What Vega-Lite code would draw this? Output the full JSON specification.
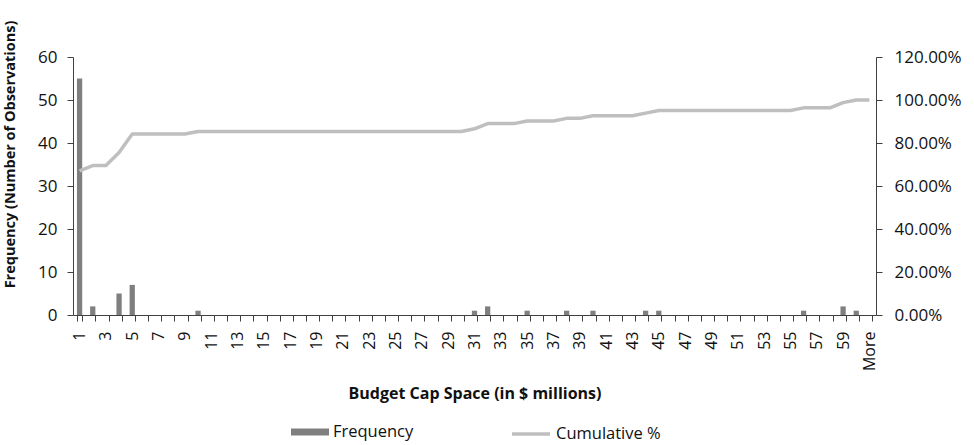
{
  "$schema": "https://vega.github.io/schema/vega-lite/v6.json",
  "width": 803,
  "height": 258,
  "autosize": {"type": "none"},
  "padding": {"left": 73, "top": 57, "right": 98, "bottom": 130},
  "background": "white",
  "config": {
    "view": {"stroke": null},
    "font": "Open Sans",
    "axis": {"labelFont": "Open Sans", "titleFont": "Open Sans", "labelColor": "#111", "titleColor": "#111", "domainColor": "#404040", "tickColor": "#404040", "grid": false, "labelFontSize": 16, "titleFontSize": 14.5, "titleFontWeight": "bold"},
    "legend": {"labelFont": "Open Sans", "labelFontSize": 16.5, "labelColor": "#111"}
  },
  "data": {"values": [
    {"bin": "1", "freq": 55, "cum": 0.6707},
    {"bin": "2", "freq": 2, "cum": 0.6951},
    {"bin": "3", "freq": 0, "cum": 0.6951},
    {"bin": "4", "freq": 5, "cum": 0.7561},
    {"bin": "5", "freq": 7, "cum": 0.8415},
    {"bin": "6", "freq": 0, "cum": 0.8415},
    {"bin": "7", "freq": 0, "cum": 0.8415},
    {"bin": "8", "freq": 0, "cum": 0.8415},
    {"bin": "9", "freq": 0, "cum": 0.8415},
    {"bin": "10", "freq": 1, "cum": 0.8537},
    {"bin": "11", "freq": 0, "cum": 0.8537},
    {"bin": "12", "freq": 0, "cum": 0.8537},
    {"bin": "13", "freq": 0, "cum": 0.8537},
    {"bin": "14", "freq": 0, "cum": 0.8537},
    {"bin": "15", "freq": 0, "cum": 0.8537},
    {"bin": "16", "freq": 0, "cum": 0.8537},
    {"bin": "17", "freq": 0, "cum": 0.8537},
    {"bin": "18", "freq": 0, "cum": 0.8537},
    {"bin": "19", "freq": 0, "cum": 0.8537},
    {"bin": "20", "freq": 0, "cum": 0.8537},
    {"bin": "21", "freq": 0, "cum": 0.8537},
    {"bin": "22", "freq": 0, "cum": 0.8537},
    {"bin": "23", "freq": 0, "cum": 0.8537},
    {"bin": "24", "freq": 0, "cum": 0.8537},
    {"bin": "25", "freq": 0, "cum": 0.8537},
    {"bin": "26", "freq": 0, "cum": 0.8537},
    {"bin": "27", "freq": 0, "cum": 0.8537},
    {"bin": "28", "freq": 0, "cum": 0.8537},
    {"bin": "29", "freq": 0, "cum": 0.8537},
    {"bin": "30", "freq": 0, "cum": 0.8537},
    {"bin": "31", "freq": 1, "cum": 0.8659},
    {"bin": "32", "freq": 2, "cum": 0.8902},
    {"bin": "33", "freq": 0, "cum": 0.8902},
    {"bin": "34", "freq": 0, "cum": 0.8902},
    {"bin": "35", "freq": 1, "cum": 0.9024},
    {"bin": "36", "freq": 0, "cum": 0.9024},
    {"bin": "37", "freq": 0, "cum": 0.9024},
    {"bin": "38", "freq": 1, "cum": 0.9146},
    {"bin": "39", "freq": 0, "cum": 0.9146},
    {"bin": "40", "freq": 1, "cum": 0.9268},
    {"bin": "41", "freq": 0, "cum": 0.9268},
    {"bin": "42", "freq": 0, "cum": 0.9268},
    {"bin": "43", "freq": 0, "cum": 0.9268},
    {"bin": "44", "freq": 1, "cum": 0.939},
    {"bin": "45", "freq": 1, "cum": 0.9512},
    {"bin": "46", "freq": 0, "cum": 0.9512},
    {"bin": "47", "freq": 0, "cum": 0.9512},
    {"bin": "48", "freq": 0, "cum": 0.9512},
    {"bin": "49", "freq": 0, "cum": 0.9512},
    {"bin": "50", "freq": 0, "cum": 0.9512},
    {"bin": "51", "freq": 0, "cum": 0.9512},
    {"bin": "52", "freq": 0, "cum": 0.9512},
    {"bin": "53", "freq": 0, "cum": 0.9512},
    {"bin": "54", "freq": 0, "cum": 0.9512},
    {"bin": "55", "freq": 0, "cum": 0.9512},
    {"bin": "56", "freq": 1, "cum": 0.9634},
    {"bin": "57", "freq": 0, "cum": 0.9634},
    {"bin": "58", "freq": 0, "cum": 0.9634},
    {"bin": "59", "freq": 2, "cum": 0.9878},
    {"bin": "60", "freq": 1, "cum": 1.0},
    {"bin": "More", "freq": 0, "cum": 1.0}
  ]},
  "encoding": {
    "x": {
      "field": "bin", "type": "ordinal", "sort": null,
      "scale": {"paddingInner": 0.6, "paddingOuter": 0.3},
      "axis": {
        "title": "Budget Cap Space (in $ millions)",
        "titleFontSize": 16,
        "labelAngle": 270,
        "labelExpr": "datum.label == 'More' || toNumber(datum.label) % 2 == 1 ? datum.label : ''",
        "tickBand": "extent",
        "tickSize": 6,
        "labelPadding": 10,
        "titlePadding": 15
      }
    }
  },
  "layer": [
    {
      "mark": {"type": "bar"},
      "encoding": {
        "y": {"field": "freq", "type": "quantitative",
          "scale": {"domain": [0, 60]},
          "axis": {"title": "Frequency (Number of Observations)", "titleY": 97, "labelFontSize": 17, "values": [0, 10, 20, 30, 40, 50, 60], "tickSize": 6, "labelPadding": 10, "titlePadding": 20}},
        "fill": {"datum": "Frequency", "type": "nominal",
          "scale": {"range": ["#7f7f7f"]},
          "legend": {"title": null, "orient": "none", "legendX": 218, "legendY": 356, "symbolType": "M-1,-0.18H1V0.18H-1Z", "symbolSize": 1444, "symbolStrokeWidth": 0, "labelOffset": 4}}
      }
    },
    {
      "mark": {"type": "line", "strokeWidth": 3.5, "strokeJoin": "round"},
      "encoding": {
        "y": {"field": "cum", "type": "quantitative",
          "scale": {"domain": [0, 1.2]},
          "axis": {"title": null, "orient": "right", "format": ".2%", "labelFontSize": 17, "values": [0, 0.2, 0.4, 0.6, 0.8, 1.0, 1.2], "tickSize": 6, "labelPadding": 12}},
        "stroke": {"datum": "Cumulative %", "type": "nominal",
          "scale": {"range": ["#bfbfbf"]},
          "legend": {"title": null, "orient": "none", "legendX": 437, "legendY": 356, "symbolType": "stroke", "symbolSize": 1444, "symbolStrokeWidth": 3.5, "labelOffset": 4}}
      }
    }
  ],
  "resolve": {"scale": {"y": "independent", "fill": "independent", "stroke": "independent"}}
}
